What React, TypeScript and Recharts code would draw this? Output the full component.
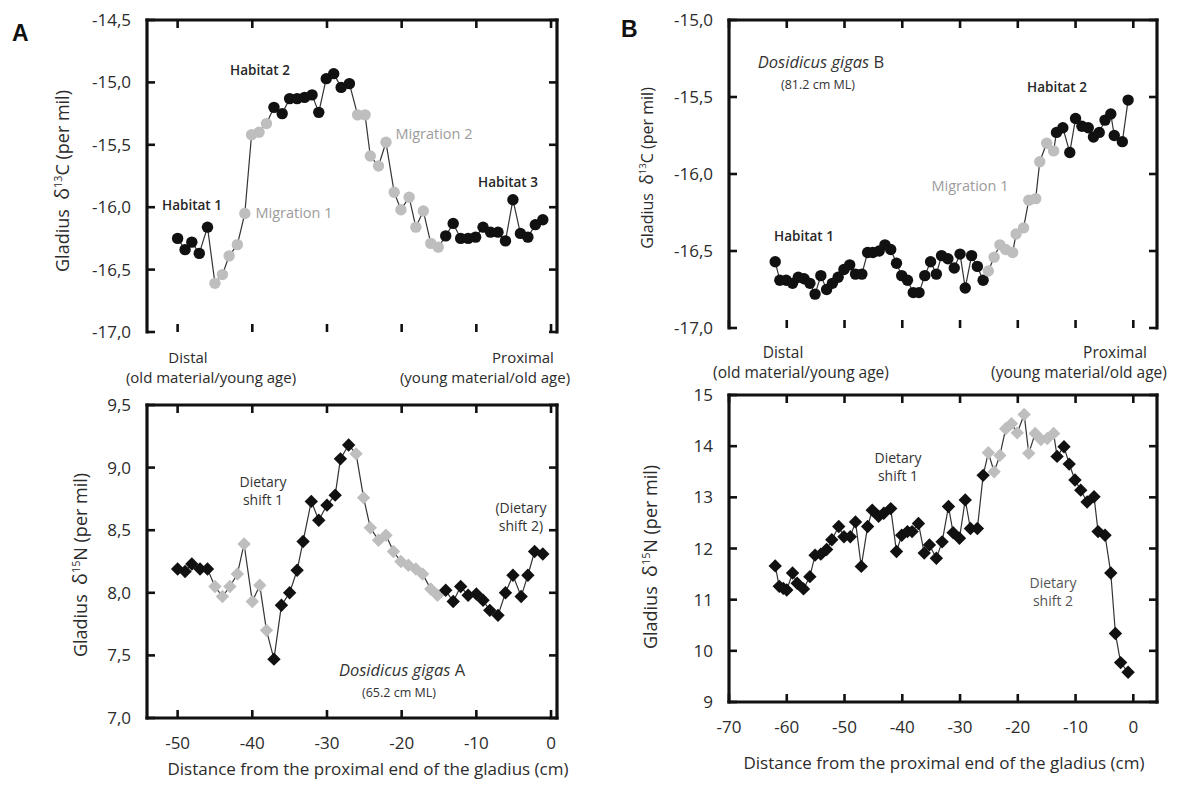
import React from "react";
import { LineChart, Line, XAxis, YAxis, ReferenceLine } from "recharts";

const FONT = "'Open Sans', 'DejaVu Sans', sans-serif";
const INK = "#111111";
const TEXT = "#2b2b2b";
const GREY = "#bebebe";

// Panel A, carbon (circles)
const distA13 = [-50, -49, -48.1, -47.1, -46, -45, -44, -43.1, -42, -41, -40.1, -39.1, -38.1, -37.1, -36, -35, -34, -33, -32, -31.1, -30.1, -29.1, -28.1, -27, -25.9, -24.9, -24.2, -23.1, -22.1, -21, -20.1, -19, -18.1, -17.1, -16.1, -15.1, -14.1, -13.1, -12.1, -11.1, -10.1, -9.1, -8.1, -7.1, -6.1, -5.1, -4.1, -3.1, -2.1, -1.1];
const d13CA = [-16.25, -16.34, -16.28, -16.37, -16.16, -16.61, -16.54, -16.39, -16.3, -16.05, -15.42, -15.4, -15.33, -15.2, -15.25, -15.13, -15.13, -15.12, -15.1, -15.24, -14.97, -14.93, -15.04, -15.01, -15.26, -15.26, -15.59, -15.67, -15.48, -15.88, -16.02, -15.92, -16.16, -16.03, -16.29, -16.32, -16.23, -16.13, -16.25, -16.25, -16.24, -16.16, -16.2, -16.2, -16.27, -15.94, -16.21, -16.24, -16.14, -16.1];
// run lengths, alternating resident / transition, starting resident
const runsA13 = [5, 8, 11, 12, 14];

// Panel A, nitrogen (diamonds)
const distA15 = [-50, -49, -48.1, -47, -46, -45, -44, -43, -42, -41.1, -40, -39, -38.1, -37.1, -36.1, -35, -34, -33.2, -32.1, -31.1, -30, -28.9, -28.2, -27.1, -26.1, -25.1, -24.2, -23.1, -22.1, -21.1, -20.1, -19.1, -18.1, -17.2, -16.1, -15.2, -14.1, -13.1, -12.1, -11.1, -10, -9.1, -8.2, -7.1, -6.1, -5.1, -4, -3.1, -2.2, -1.1];
const d15NA = [8.19, 8.17, 8.23, 8.19, 8.19, 8.05, 7.97, 8.05, 8.15, 8.39, 7.93, 8.06, 7.7, 7.47, 7.9, 8.0, 8.18, 8.41, 8.73, 8.58, 8.7, 8.78, 9.07, 9.18, 9.11, 8.76, 8.52, 8.42, 8.46, 8.33, 8.25, 8.22, 8.19, 8.15, 8.03, 7.98, 8.02, 7.93, 8.05, 7.98, 7.99, 7.94, 7.86, 7.82, 8.0, 8.14, 7.97, 8.14, 8.33, 8.31];
const runsA15 = [5, 8, 11, 12, 14];

// Panel B, carbon (circles)
const distB13 = [-62, -61.2, -60.1, -59, -58, -57, -56, -55.1, -54.1, -53.1, -52.1, -51.1, -50.1, -49.1, -48.1, -47, -46, -45.1, -44, -43, -42, -41, -40.1, -39.1, -38.1, -37.1, -36.1, -35.1, -34.1, -33.2, -32.1, -31, -30, -29.1, -28, -27, -26, -25.1, -24.1, -23.1, -22.1, -20.9, -20.3, -19, -18.1, -16.9, -16.2, -15, -13.8, -13.3, -12.2, -11, -10, -8.9, -7.8, -6.9, -5.9, -4.9, -3.9, -3.3, -1.9, -0.9];
const d13CB = [-16.57, -16.69, -16.69, -16.71, -16.67, -16.68, -16.71, -16.78, -16.66, -16.75, -16.71, -16.67, -16.62, -16.59, -16.65, -16.65, -16.51, -16.51, -16.5, -16.46, -16.49, -16.58, -16.66, -16.69, -16.77, -16.77, -16.66, -16.57, -16.65, -16.53, -16.55, -16.61, -16.52, -16.74, -16.53, -16.6, -16.69, -16.63, -16.54, -16.46, -16.49, -16.51, -16.39, -16.35, -16.17, -16.16, -15.92, -15.8, -15.85, -15.73, -15.7, -15.86, -15.64, -15.69, -15.7, -15.76, -15.73, -15.65, -15.61, -15.75, -15.79, -15.52];
const runsB13 = [37, 12, 13];

// Panel B, nitrogen (diamonds)
const distB15 = [-62, -61.3, -60.6, -60, -59, -58.2, -57.1, -56, -55.1, -54.1, -53.1, -52.2, -51, -50.1, -49, -48.1, -47.1, -46, -45.2, -44.1, -43.2, -42, -41, -40.1, -39.1, -38.3, -37.2, -36.2, -35.3, -34.1, -33.1, -32, -31.2, -30.1, -29.1, -28.2, -27, -26, -25.1, -24.1, -23.1, -22.1, -21.1, -20.1, -18.9, -18.1, -17, -16, -14.9, -13.8, -13.2, -12, -11.1, -10.1, -9.1, -8, -6.8, -6.1, -4.9, -3.9, -3.1, -2.2, -0.9];
const d15NB = [11.66, 11.26, 11.22, 11.19, 11.52, 11.32, 11.21, 11.45, 11.87, 11.89, 11.98, 12.17, 12.43, 12.23, 12.23, 12.52, 11.65, 12.43, 12.75, 12.63, 12.69, 12.78, 11.94, 12.26, 12.33, 12.33, 12.49, 11.91, 12.07, 11.81, 12.13, 12.82, 12.31, 12.2, 12.95, 12.39, 12.39, 13.43, 13.87, 13.5, 13.82, 14.34, 14.44, 14.26, 14.62, 13.86, 14.25, 14.13, 14.15, 14.25, 13.8, 13.99, 13.65, 13.34, 13.14, 12.91, 13.01, 12.33, 12.26, 11.52, 10.34, 9.77, 9.58];
const runsB15 = [38, 12, 13];

const ticksA = [-50, -40, -30, -20, -10, 0];
const ticksB = [-70, -60, -50, -40, -30, -20, -10, 0];
const ticksA13 = [-17, -16.5, -16, -15.5, -15, -14.5];
const ticksA15 = [7, 7.5, 8, 8.5, 9, 9.5];
const ticksB13 = [-17, -16.5, -16, -15.5, -15];
const ticksB15 = [9, 10, 11, 12, 13, 14, 15];

type Row = { x: number; y: number; transition: boolean };

function buildRows(xs: number[], ys: number[], runs: number[]): Row[] {
  const flags: boolean[] = [];
  runs.forEach((n, k) => {
    for (let i = 0; i < n; i++) flags.push(k % 2 === 1);
  });
  return xs.map((x, i) => ({ x, y: ys[i], transition: flags[i] }));
}

const YW = 80;
const XH = 40;
const PAD = 14;
const TICK_PX = 8;

interface PanelProps {
  rows: Row[];
  left: number;
  top: number;
  width: number;
  height: number;
  xDomain: [number, number];
  xTicks: number[];
  yDomain: [number, number];
  yTicks: number[];
  yDecimals: number;
  xLabels: boolean;
  marker: "circle" | "diamond";
}

function Panel(p: PanelProps) {
  const xh = p.xLabels ? XH : 0;
  const fmt = (v: number) => v.toFixed(p.yDecimals).replace(".", ",");
  const tickStyle = { fontFamily: FONT, fontSize: 17, fill: TEXT };
  const frame = { stroke: INK, strokeWidth: 3.2, strokeLinecap: "square" as const };
  const [x0, x1] = p.xDomain;
  const [y0, y1] = p.yDomain;
  // tick length expressed in data units of each axis
  const dx = (TICK_PX * (x1 - x0)) / p.width;
  const dy = (TICK_PX * (y1 - y0)) / p.height;

  const dot = (props: any) => {
    const { cx, cy, payload, index } = props;
    if (cx == null || cy == null) return <g key={`e${index}`} />;
    const fill = payload.transition ? GREY : "#111";
    if (p.marker === "circle") {
      return <circle key={`d${index}`} cx={cx} cy={cy} r={5.7} fill={fill} />;
    }
    const s = 6.7;
    return (
      <path
        key={`d${index}`}
        d={`M${cx},${cy - s}L${cx + s},${cy}L${cx},${cy + s}L${cx - s},${cy}Z`}
        fill={fill}
      />
    );
  };

  // inward tick marks on all four sides of the box
  const marks: React.ReactElement[] = [];
  p.xTicks.forEach((t) => {
    marks.push(<ReferenceLine key={`xb${t}`} segment={[{ x: t, y: y0 }, { x: t, y: y0 + dy }]} stroke={INK} strokeWidth={2.6} ifOverflow="visible" />);
    marks.push(<ReferenceLine key={`xt${t}`} segment={[{ x: t, y: y1 }, { x: t, y: y1 - dy }]} stroke={INK} strokeWidth={2.6} ifOverflow="visible" />);
  });
  p.yTicks.forEach((t) => {
    marks.push(<ReferenceLine key={`yl${t}`} segment={[{ x: x0, y: t }, { x: x0 + dx, y: t }]} stroke={INK} strokeWidth={2.6} ifOverflow="visible" />);
    marks.push(<ReferenceLine key={`yr${t}`} segment={[{ x: x1, y: t }, { x: x1 - dx, y: t }]} stroke={INK} strokeWidth={2.6} ifOverflow="visible" />);
  });

  return (
    <div style={{ position: "absolute", left: p.left - YW, top: p.top - PAD }}>
      <LineChart
        width={p.width + YW + 10}
        height={p.height + PAD + xh + PAD}
        data={p.rows}
        margin={{ top: PAD, right: 10, bottom: PAD, left: 0 }}
      >
        <XAxis
          type="number"
          dataKey="x"
          domain={p.xDomain}
          ticks={p.xTicks}
          interval={0}
          height={xh}
          tick={p.xLabels ? tickStyle : false}
          tickLine={false}
          tickSize={0}
          tickMargin={19}
          axisLine={frame}
        />
        <YAxis
          type="number"
          domain={p.yDomain}
          ticks={p.yTicks}
          interval={0}
          width={YW}
          tick={tickStyle}
          tickFormatter={fmt}
          tickLine={false}
          tickSize={0}
          tickMargin={16}
          axisLine={frame}
        />
        <ReferenceLine y={y1} {...frame} ifOverflow="visible" />
        <ReferenceLine x={x1} {...frame} ifOverflow="visible" />
        {marks}
        <Line
          dataKey="y"
          type="linear"
          stroke="#333"
          strokeWidth={1.2}
          dot={dot}
          activeDot={false}
          isAnimationActive={false}
        />
      </LineChart>
    </div>
  );
}

function Txt(props: {
  x: number;
  y: number;
  size: number;
  color?: string;
  weight?: number;
  children: React.ReactNode;
}) {
  return (
    <div
      style={{
        position: "absolute",
        left: props.x,
        top: props.y,
        transform: "translate(-50%, -50%)",
        whiteSpace: "nowrap",
        textAlign: "center",
        fontFamily: FONT,
        fontSize: props.size,
        fontWeight: props.weight ?? 400,
        color: props.color ?? TEXT,
        lineHeight: 1.3,
      }}
    >
      {props.children}
    </div>
  );
}

function YTitle(props: { x: number; y: number; size: number; iso: string; el: string }) {
  return (
    <div
      style={{
        position: "absolute",
        left: props.x,
        top: props.y,
        transform: "translate(-50%, -50%) rotate(-90deg)",
        whiteSpace: "nowrap",
        fontFamily: FONT,
        fontSize: props.size,
        color: TEXT,
        lineHeight: 1,
      }}
    >
      Gladius&nbsp;&nbsp;<span style={{ fontSize: "1.1em" }}>δ</span>
      <sup style={{ fontSize: "0.6em", verticalAlign: "0.7em" }}>{props.iso}</sup>
      {props.el} (per mil)
    </div>
  );
}

export default function App() {
  const rowsA13 = buildRows(distA13, d13CA, runsA13);
  const rowsA15 = buildRows(distA15, d15NA, runsA15);
  const rowsB13 = buildRows(distB13, d13CB, runsB13);
  const rowsB15 = buildRows(distB15, d15NB, runsB15);
  const gray = "#9c9c9c";

  return (
    <div style={{ position: "absolute", left: 0, top: 0, width: 1177, height: 790, background: "#fff" }}>
      <Panel rows={rowsA13} left={147} top={20} width={410} height={312} xDomain={[-54.1, 0.8]} xTicks={ticksA}
        yDomain={[-17, -14.5]} yTicks={ticksA13} yDecimals={1} xLabels={false} marker="circle" />
      <Panel rows={rowsA15} left={147} top={405} width={410} height={313} xDomain={[-54.1, 0.8]} xTicks={ticksA}
        yDomain={[7, 9.5]} yTicks={ticksA15} yDecimals={1} xLabels={true} marker="diamond" />
      <Panel rows={rowsB13} left={729} top={20} width={428} height={308} xDomain={[-70, 4.1]} xTicks={ticksB}
        yDomain={[-17, -15]} yTicks={ticksB13} yDecimals={1} xLabels={false} marker="circle" />
      <Panel rows={rowsB15} left={729} top={395} width={428} height={307} xDomain={[-70, 4.1]} xTicks={ticksB}
        yDomain={[9, 15]} yTicks={ticksB15} yDecimals={0} xLabels={true} marker="diamond" />

      <div style={{ position: "absolute", left: 12, top: 22, fontFamily: "'Liberation Sans', Arial, sans-serif", fontWeight: 700, fontSize: 23, lineHeight: 1, color: "#111" }}>A</div>
      <div style={{ position: "absolute", left: 621, top: 18, fontFamily: "'Liberation Sans', Arial, sans-serif", fontWeight: 700, fontSize: 23, lineHeight: 1, color: "#111" }}>B</div>

      <YTitle x={62} y={181} size={18} iso="13" el="C" />
      <YTitle x={80} y={565} size={18} iso="15" el="N" />
      <YTitle x={647} y={168} size={16} iso="13" el="C" />
      <YTitle x={650} y={557} size={18} iso="15" el="N" />

      <Txt x={188} y={358} size={15}>Distal</Txt>
      <Txt x={211} y={378} size={15}>(old material/young age)</Txt>
      <Txt x={523} y={358} size={15}>Proximal</Txt>
      <Txt x={485} y={378} size={15}>(young material/old age)</Txt>
      <Txt x={783} y={352} size={15.5}>Distal</Txt>
      <Txt x={801} y={372} size={15.5}>(old material/young age)</Txt>
      <Txt x={1115} y={352} size={15.5}>Proximal</Txt>
      <Txt x={1079} y={372} size={15.5}>(young material/old age)</Txt>

      <Txt x={368} y={769} size={17}>Distance from the proximal end of the gladius (cm)</Txt>
      <Txt x={944} y={763} size={17}>Distance from the proximal end of the gladius (cm)</Txt>

      <Txt x={192} y={206} size={13.5} weight={600} color="#262626">Habitat 1</Txt>
      <Txt x={260} y={71} size={13.5} weight={600} color="#262626">Habitat 2</Txt>
      <Txt x={508} y={183} size={13.5} weight={600} color="#262626">Habitat 3</Txt>
      <Txt x={294} y={213} size={14.5} color={gray}>Migration 1</Txt>
      <Txt x={434} y={134} size={14.5} color={gray}>Migration 2</Txt>

      <Txt x={263} y={491} size={14} color="#333">Dietary<br />shift 1</Txt>
      <Txt x={521} y={517} size={14} color="#333">(Dietary<br />shift 2)</Txt>
      <Txt x={402} y={670} size={16.5} color="#333"><i>Dosidicus gigas</i> A</Txt>
      <Txt x={399} y={693} size={12.5} color="#333">(65.2 cm ML)</Txt>

      <Txt x={821} y={62} size={16.5} color="#333"><i>Dosidicus gigas</i> B</Txt>
      <Txt x={818} y={85} size={12.5} color="#333">(81.2 cm ML)</Txt>
      <Txt x={1057} y={88} size={13.5} weight={600} color="#262626">Habitat 2</Txt>
      <Txt x={804} y={237} size={13.5} weight={600} color="#262626">Habitat 1</Txt>
      <Txt x={970} y={186} size={14.5} color={gray}>Migration 1</Txt>

      <Txt x={898} y={467} size={14} color="#333">Dietary<br />shift 1</Txt>
      <Txt x={1053} y={592} size={14} color="#555">Dietary<br />shift 2</Txt>
    </div>
  );
}
